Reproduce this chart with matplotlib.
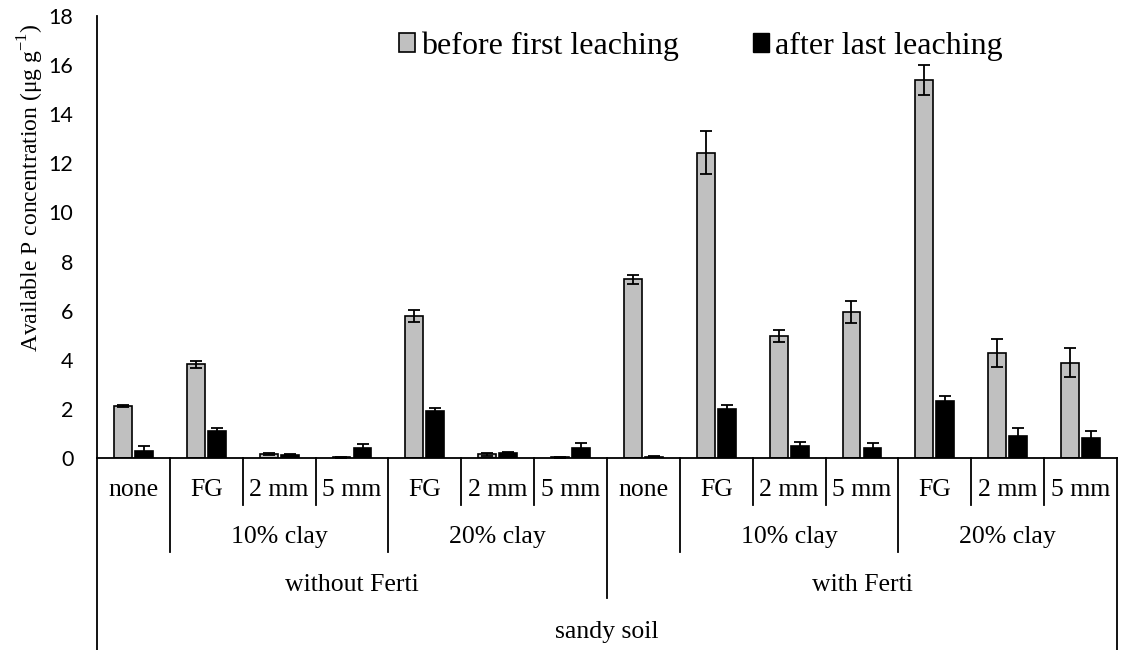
import numpy as np
import matplotlib
matplotlib.use('Agg')
import matplotlib.pyplot as plt
from matplotlib.patches import Patch

plt.rcParams['font.family'] = 'Liberation Serif'
plt.rcParams['mathtext.fontset'] = 'custom'
plt.rcParams['mathtext.rm'] = 'Liberation Serif'

# -- data: available P (ug/g), mean and error
treat = ['none', 'FG', '2 mm', '5 mm', 'FG', '2 mm', '5 mm',
         'none', 'FG', '2 mm', '5 mm', 'FG', '2 mm', '5 mm']
before = [2.10, 3.82, 0.17, 0.03, 5.78, 0.15, 0.03,
          7.27, 12.44, 4.98, 5.96, 15.40, 4.27, 3.88]
before_err = [0.04, 0.15, 0.05, 0.01, 0.26, 0.06, 0.01,
              0.18, 0.89, 0.25, 0.45, 0.60, 0.57, 0.59]
after = [0.30, 1.11, 0.13, 0.42, 1.93, 0.22, 0.42,
         0.06, 2.01, 0.50, 0.41, 2.31, 0.91, 0.80]
after_err = [0.19, 0.10, 0.02, 0.16, 0.12, 0.03, 0.20,
             0.02, 0.16, 0.16, 0.20, 0.22, 0.30, 0.31]

clay = [('10% clay', 1, 3), ('20% clay', 4, 6), ('10% clay', 8, 10), ('20% clay', 11, 13)]
ferti = [('without Ferti', 0, 6), ('with Ferti', 7, 13)]
soil = [('sandy soil', 0, 13)]

W, H = 1128, 650
fig = plt.figure(figsize=(W / 100, H / 100), dpi=100)
ax = fig.add_axes([97 / W, 1 - 458 / H, 1020 / W, 442 / H])

x = np.arange(len(treat))
bw = 0.245
ax.bar(x - 0.145, before, bw, color='#C0C0C0', edgecolor='black', linewidth=1.2,
       yerr=before_err, error_kw=dict(ecolor='black', elinewidth=1.3, capsize=4.5, capthick=1.3))
ax.bar(x + 0.145, after, bw, color='black', edgecolor='black', linewidth=1.2,
       yerr=after_err, error_kw=dict(ecolor='black', elinewidth=1.3, capsize=4.5, capthick=1.3))

ax.set_xlim(-0.5, len(treat) - 0.5)
ax.set_ylim(0, 18)
ax.set_yticks(np.arange(0, 19, 2))
ax.tick_params(axis='y', length=0, pad=17, labelsize=15.5)
for t in ax.get_yticklabels():
    t.set_family('Lato')
ax.set_xticks([])
for s in ['top', 'right']:
    ax.spines[s].set_visible(False)
ax.spines['left'].set_linewidth(1.3)
ax.spines['bottom'].set_linewidth(1.3)

# -- multi-level category axis below the plot
tr = ax.get_xaxis_transform()
px = 1 / 442.0
lvl = [-(505 - 458) * px, -(552 - 458) * px, -(598 - 458) * px, -(650 - 458) * px]
lbl_y = [-(490 - 458) * px, -(537 - 458) * px, -(585 - 458) * px, -(632 - 458) * px]

def depth(b):
    # how far down a separator at boundary b reaches
    if b in (-0.5, len(treat) - 0.5):
        return lvl[3]
    if b == 6.5:
        return lvl[2]
    if b in (0.5, 3.5, 7.5, 10.5):
        return lvl[1]
    return lvl[0]

for b in np.arange(-0.5, len(treat), 1.0):
    ax.plot([b, b], [0, depth(b)], transform=tr, color='black', lw=1.3, clip_on=False)

fs = 18.5
for i, t in enumerate(treat):
    ax.text(i, lbl_y[0], t, transform=tr, ha='center', va='center', fontsize=fs)
for row, groups in zip(lbl_y[1:], [clay, ferti, soil]):
    for name, a, b in groups:
        ax.text((a + b) / 2, row, name, transform=tr, ha='center', va='center', fontsize=fs)

fig.text(31 / W, 1 - 188 / H, r'Available P concentration (μg g$^{-1}$)', rotation=90,
         ha='center', va='center', fontsize=17)

handles = [Patch(facecolor='#C0C0C0', edgecolor='black', linewidth=1.2),
           Patch(facecolor='black', edgecolor='black')]
ax.legend(handles, ['before first leaching', 'after last leaching'], ncol=2,
          loc='center', bbox_to_anchor=(0.592, 0.932), frameon=False, fontsize=23,
          handlelength=0.5, handleheight=0.5, handletextpad=0.2, columnspacing=2.3)

fig.savefig('out.png', dpi=100)
